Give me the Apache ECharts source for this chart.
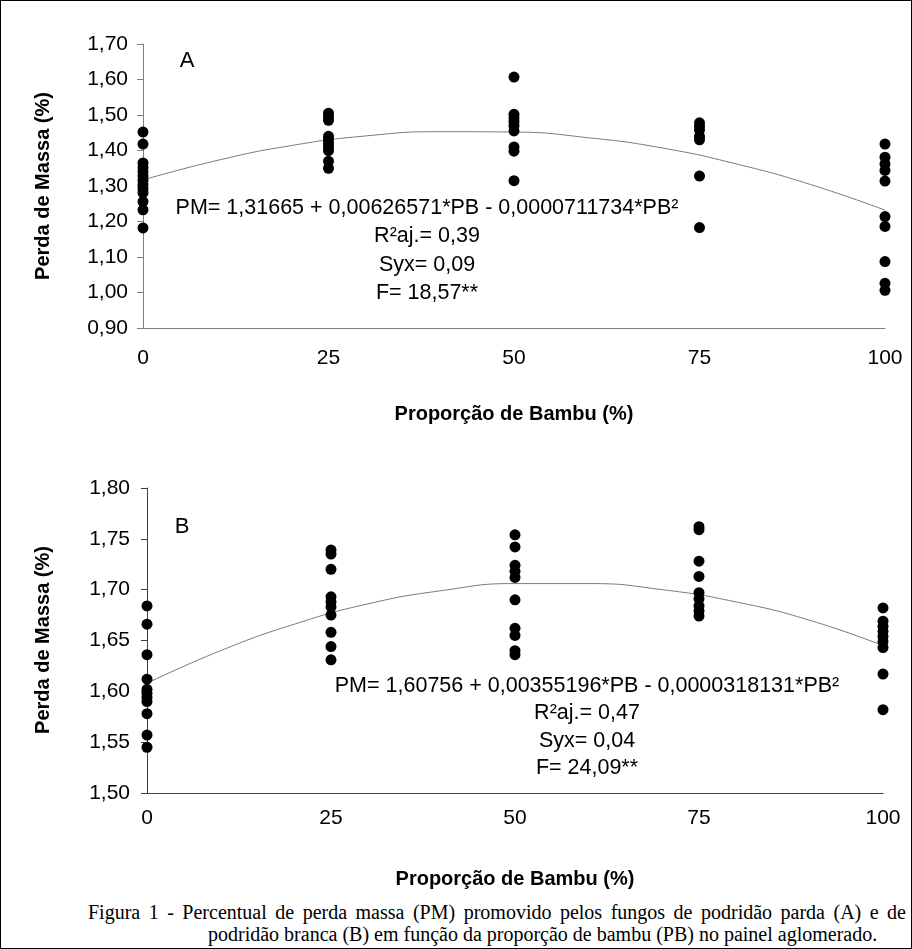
<!DOCTYPE html>
<html>
<head>
<meta charset="utf-8">
<script src="https://cdn.jsdelivr.net/npm/echarts@6/dist/echarts.min.js"></script>
<style>
  html, body { margin: 0; padding: 0; background: #fff; }
  #frame { position: relative; width: 912px; height: 949px; box-sizing: border-box; border: 1px solid #000; }
  #chart { position: absolute; left: 0; top: 0; width: 910px; height: 890px; }
  .cap { position: absolute; font-family: "Liberation Serif", "Times New Roman", serif; font-size: 20px; color: #000; white-space: nowrap; }
  #cap1 { left: 87px; width: 818px; top: 900px; text-align: justify; text-align-last: justify; white-space: normal; }
  #cap2 { left: 207px; top: 922px; }
</style>
</head>
<body>
<div id="frame">
  <div id="chart"></div>
  <div class="cap" id="cap1">Figura 1 - Percentual de perda massa (PM) promovido pelos fungos de podridão parda (A) e de</div>
  <div class="cap" id="cap2">podridão branca (B) em função da proporção de bambu (PB) no painel aglomerado.</div>
</div>
<script>
  // proporção de bambu (%)
  const levels = [0, 25, 50, 75, 100];
  const xTicks = ['0', '25', '50', '75', '100'];

  // A - podridão parda
  const topAt0 = [1.452, 1.418, 1.365, 1.352, 1.340, 1.328, 1.316, 1.304, 1.292, 1.281, 1.256, 1.233, 1.182];
  const topAt25 = [1.505, 1.495, 1.485, 1.440, 1.430, 1.420, 1.410, 1.400, 1.370, 1.350];
  const topAt50 = [1.607, 1.502, 1.492, 1.482, 1.470, 1.455, 1.410, 1.398, 1.315];
  const topAt75 = [1.478, 1.468, 1.458, 1.440, 1.430, 1.328, 1.183];
  const topAt100 = [1.418, 1.381, 1.362, 1.344, 1.314, 1.214, 1.186, 1.087, 1.026, 1.006];

  // B - podridão branca
  const botAt0 = [1.684, 1.666, 1.636, 1.612, 1.602, 1.598, 1.594, 1.590, 1.578, 1.557, 1.545];
  const botAt25 = [1.739, 1.735, 1.720, 1.693, 1.688, 1.683, 1.675, 1.658, 1.644, 1.631];
  const botAt50 = [1.754, 1.742, 1.724, 1.718, 1.712, 1.690, 1.662, 1.655, 1.640, 1.636];
  const botAt75 = [1.762, 1.759, 1.728, 1.713, 1.697, 1.691, 1.684, 1.679, 1.674];
  const botAt100 = [1.682, 1.669, 1.664, 1.659, 1.654, 1.649, 1.643, 1.617, 1.582];

  // curvas ajustadas
  const curveX = [0, 10, 20, 30, 40, 50, 60, 70, 80, 90, 100];
  const topCurve = [1.317, 1.372, 1.414, 1.441, 1.453, 1.452, 1.436, 1.407, 1.362, 1.304, 1.232];
  const botCurve = [1.608, 1.640, 1.666, 1.686, 1.699, 1.706, 1.706, 1.700, 1.688, 1.670, 1.645];

  const topTicks = ['0,90', '1,00', '1,10', '1,20', '1,30', '1,40', '1,50', '1,60', '1,70'];
  const botTicks = ['1,50', '1,55', '1,60', '1,65', '1,70', '1,75', '1,80'];

  const topEq = ['PM= 1,31665 + 0,00626571*PB - 0,0000711734*PB²', 'R²aj.= 0,39', 'Syx= 0,09', 'F= 18,57**'];
  const botEq = ['PM= 1,60756 + 0,00355196*PB - 0,0000318131*PB²', 'R²aj.= 0,47', 'Syx= 0,04', 'F= 24,09**'];

  const pairs = (groups) => {
    const out = [];
    groups.forEach((vals, i) => vals.forEach(v => out.push([levels[i], v])));
    return out;
  };
  const curve = (ys) => curveX.map((x, i) => [x, ys[i]]);

  const font = '"Liberation Sans", Arial, sans-serif';
  const comma = (v) => v.toFixed(2).replace('.', ',');

  const xAxisBase = (grid, margin, color) => ({
    type: 'value', gridIndex: grid, min: 0, max: 100, interval: 25,
    axisLine: { lineStyle: { color: color, width: 1 } },
    axisTick: { show: false },
    splitLine: { show: false },
    axisLabel: { margin: margin, color: '#000', fontSize: 21, fontFamily: font,
      formatter: (v) => xTicks[levels.indexOf(v)] }
  });
  const yAxisBase = (grid, min, max, step, ticks, margin, color) => ({
    type: 'value', gridIndex: grid, min: min, max: max, interval: step,
    axisLine: { show: true, lineStyle: { color: color, width: 1 } },
    axisTick: { show: true, length: 6, lineStyle: { color: color } },
    splitLine: { show: false },
    axisLabel: { margin: margin, color: '#000', fontSize: 21, fontFamily: font,
      formatter: (v) => ticks[Math.round((v - min) / step)] || comma(v) }
  });

  const eqLines = (lines, cx, y0, gap) => lines.map((t, i) => ({
    type: 'text', x: cx, y: y0 + i * gap,
    style: { text: t, font: '21.5px ' + font, fill: '#000', align: 'center', verticalAlign: 'middle' }
  }));
  const label = (t, x, y, rot, bold, size) => ({
    type: 'text', x: x, y: y, rotation: rot || 0,
    style: { text: t, font: (bold ? 'bold ' : '') + (size || 20) + 'px ' + font, fill: '#000', align: 'center', verticalAlign: 'middle' }
  });

  const chart = echarts.init(document.getElementById('chart'));
  chart.setOption({
    animation: false,
    backgroundColor: '#fff',
    grid: [
      { left: 142, top: 43, width: 742, height: 284 },
      { left: 146, top: 487, width: 736, height: 305 }
    ],
    xAxis: [xAxisBase(0, 20, '#808080'), xAxisBase(1, 15, '#404040')],
    yAxis: [
      yAxisBase(0, 0.9, 1.7, 0.1, topTicks, 15, '#808080'),
      yAxisBase(1, 1.5, 1.8, 0.05, botTicks, 17, '#404040')
    ],
    series: [
      { type: 'line', xAxisIndex: 0, yAxisIndex: 0, data: curve(topCurve), smooth: true, showSymbol: false,
        lineStyle: { color: '#7a7a7a', width: 1 }, z: 1 },
      { type: 'scatter', xAxisIndex: 0, yAxisIndex: 0, data: pairs([topAt0, topAt25, topAt50, topAt75, topAt100]),
        symbolSize: 11, itemStyle: { color: '#000', opacity: 1 }, z: 2 },
      { type: 'line', xAxisIndex: 1, yAxisIndex: 1, data: curve(botCurve), smooth: true, showSymbol: false,
        lineStyle: { color: '#7a7a7a', width: 1 }, z: 1 },
      { type: 'scatter', xAxisIndex: 1, yAxisIndex: 1, data: pairs([botAt0, botAt25, botAt50, botAt75, botAt100]),
        symbolSize: 11, itemStyle: { color: '#000', opacity: 1 }, z: 2 }
    ],
    graphic: [
      label('A', 186, 60, 0, false, 22),
      label('B', 181, 526, 0, false, 22),
      label('Perda de Massa (%)', 42, 185, Math.PI / 2, true, 20),
      label('Perda de Massa (%)', 42, 639, Math.PI / 2, true, 20),
      label('Proporção de Bambu (%)', 513, 413, 0, true, 20),
      label('Proporção de Bambu (%)', 514, 878, 0, true, 20)
    ].concat(eqLines(topEq, 426, 207, 28.5), eqLines(botEq, 586, 685, 27.5))
  });
</script>
</body>
</html>
